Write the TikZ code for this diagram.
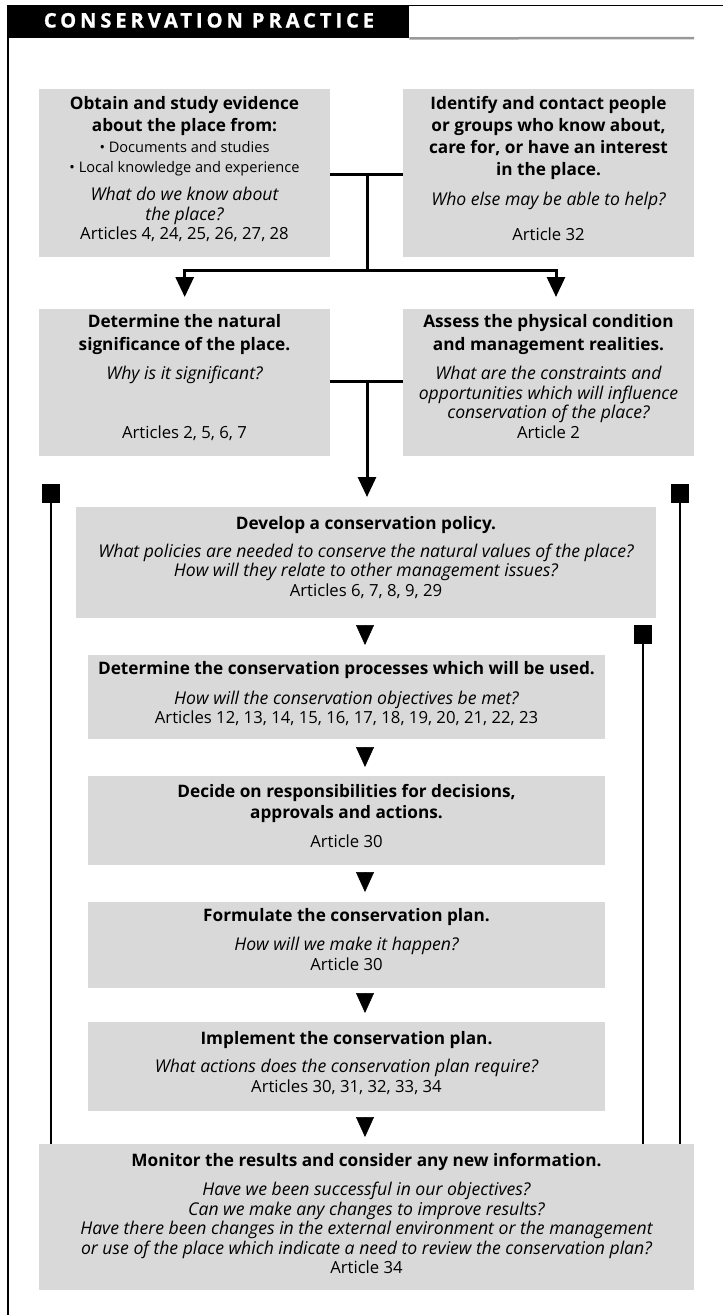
\documentclass[tikz,border=0pt]{standalone}
\usepackage{fontspec}
\setmainfont{Open Sans}
\newfontfamily\hdrfont[LetterSpace=20,BoldFeatures={FakeBold=1.2}]{Open Sans}
\usetikzlibrary{arrows.meta}
\definecolor{boxgray}{gray}{0.85}
\definecolor{rulegray}{gray}{0.6}
\newcommand\tline[5]{\node[#2] (#1) at (#3,#4) {#5};}
\tikzset{
  box/.style={fill=boxgray, inner sep=0pt, anchor=north west},
  tbase/.style={anchor=mid, inner sep=0pt, text=black},
  tb/.style={tbase, font=\fontsize{17.2}{19}\selectfont\bfseries},
  ti/.style={tbase, font=\fontsize{17.6}{19}\selectfont\itshape},
  tr/.style={tbase, font=\fontsize{16.7}{19}\selectfont},
  ts/.style={tbase, font=\fontsize{14.6}{17}\selectfont},
  conn/.style={line width=3pt},
  tri/.style={-{Triangle[length=20pt,width=18pt]}},
  fb/.style={line width=2.5pt, -{Square[length=19pt,width=18pt]}}
}
\begin{document}
\begin{tikzpicture}[x=1pt,y=-1pt]
\useasboundingbox[fill=white] (0,0) rectangle (723,1315);
% header
\node[fill=black, inner sep=0pt, anchor=north west, minimum width=401pt, minimum height=33pt] (hdr) at (8,5) {};
\node[anchor=base, inner sep=0pt, text=white, font=\hdrfont\fontsize{20}{22}\selectfont\bfseries] (hdrtxt) at (209,27.5) {CONSERVATION PRACTICE};
\coordinate (tr) at (723,5);
\coordinate (gr) at (694,38);
\coordinate (bl) at (8,1315);
\draw[line width=1pt] (hdr.north east) -- (tr);
\draw[rulegray, line width=2.5pt] (hdr.south east) -- (gr);
\draw[line width=1.5pt] (hdr.north west) -- (bl);
% boxes
\node[box, minimum width=291pt, minimum height=168pt] (b1) at (39,89) {};
\node[box, minimum width=291pt, minimum height=168pt] (b2) at (403,89) {};
\node[box, minimum width=291pt, minimum height=147pt] (b3) at (39,309) {};
\node[box, minimum width=291pt, minimum height=147pt] (b4) at (403,309) {};
\node[box, minimum width=580pt, minimum height=111pt] (b5) at (76,507) {};
\node[box, minimum width=517pt, minimum height=84pt] (b6) at (88,655) {};
\node[box, minimum width=517pt, minimum height=89pt] (b7) at (88,776) {};
\node[box, minimum width=517pt, minimum height=86pt] (b8) at (88,902) {};
\node[box, minimum width=517pt, minimum height=89pt] (b9) at (88,1022) {};
\node[box, minimum width=655pt, minimum height=146pt] (b10) at (39,1144) {};
% box 1
\tline{t1a}{tb}{184.5}{107}{Obtain and study evidence}
\tline{t1b}{tb}{184.5}{129}{about the place from:}
\tline{t1c}{ts}{184.5}{150}{• Documents and studies}
\tline{t1d}{ts}{184.5}{170}{• Local knowledge and experience}
\tline{t1e}{ti}{184.5}{198}{What do we know about}
\tline{t1f}{ti}{184.5}{218}{the place?}
\tline{t1g}{tr}{184.5}{237}{Articles 4, 24, 25, 26, 27, 28}
% box 2
\tline{t2a}{tb}{548.5}{107}{Identify and contact people}
\tline{t2b}{tb}{548.5}{129}{or groups who know about,}
\tline{t2c}{tb}{548.5}{151}{care for, or have an interest}
\tline{t2d}{tb}{548.5}{173}{in the place.}
\tline{t2e}{ti}{548.5}{203}{Who else may be able to help?}
\tline{t2f}{tr}{548.5}{238}{Article 32}
% box 3
\tline{t3a}{tb}{184.5}{325}{Determine the natural}
\tline{t3b}{tb}{184.5}{348}{significance of the place.}
\tline{t3c}{ti}{184.5}{377}{Why is it significant?}
\tline{t3d}{tr}{184.5}{436}{Articles 2, 5, 6, 7}
% box 4
\tline{t4a}{tb}{548.5}{325}{Assess the physical condition}
\tline{t4b}{tb}{548.5}{348}{and management realities.}
\tline{t4c}{ti}{548.5}{377}{What are the constraints and}
\tline{t4d}{ti}{548.5}{397}{opportunities which will influence}
\tline{t4e}{ti}{548.5}{416}{conservation of the place?}
\tline{t4f}{tr}{548.5}{436}{Article 2}
% box 5
\tline{t5a}{tb}{366}{527}{Develop a conservation policy.}
\tline{t5b}{ti}{366}{555}{What policies are needed to conserve the natural values of the place?}
\tline{t5c}{ti}{366}{574}{How will they relate to other management issues?}
\tline{t5d}{tr}{366}{594}{Articles 6, 7, 8, 9, 29}
% box 6
\tline{t6a}{tb}{346.5}{672}{Determine the conservation processes which will be used.}
\tline{t6b}{ti}{346.5}{702}{How will the conservation objectives be met?}
\tline{t6c}{tr}{346.5}{721}{Articles 12, 13, 14, 15, 16, 17, 18, 19, 20, 21, 22, 23}
% box 7
\tline{t7a}{tb}{346.5}{795}{Decide on responsibilities for decisions,}
\tline{t7b}{tb}{346.5}{816}{approvals and actions.}
\tline{t7c}{tr}{346.5}{845}{Article 30}
% box 8
\tline{t8a}{tb}{346.5}{919}{Formulate the conservation plan.}
\tline{t8b}{ti}{346.5}{948}{How will we make it happen?}
\tline{t8c}{tr}{346.5}{968}{Article 30}
% box 9
\tline{t9a}{tb}{346.5}{1042}{Implement the conservation plan.}
\tline{t9b}{ti}{346.5}{1070}{What actions does the conservation plan require?}
\tline{t9c}{tr}{346.5}{1090}{Articles 30, 31, 32, 33, 34}
% box 10
\tline{t10a}{tb}{366.5}{1164}{Monitor the results and consider any new information.}
\tline{t10b}{ti}{366.5}{1193}{Have we been successful in our objectives?}
\tline{t10c}{ti}{366.5}{1213}{Can we make any changes to improve results?}
\tline{t10d}{ti}{366.5}{1232}{Have there been changes in the external environment or the management}
\tline{t10e}{ti}{366.5}{1252}{or use of the place which indicate a need to review the conservation plan?}
\tline{t10f}{tr}{366.5}{1271}{Article 34}
% connectors top
\coordinate (j1) at (367,174);
\coordinate (j2) at (367,270);
\coordinate (a4) at (556,309);
\draw[conn] (b1.east |- j1) -- (b2.west |- j1);
\draw[conn] (j1) -- (j2);
\draw[conn, tri, shorten >=12pt] (j2) -| (b3.north);
\draw[conn, tri, shorten >=12pt] (j2) -| (a4);
% connectors middle
\coordinate (j3) at (367,381);
\draw[conn] (b3.east |- j3) -- (b4.west |- j3);
\draw[conn, tri, shorten >=10pt] (j3) -- (j3 |- b5.north);
% stacked arrows
\coordinate (ax) at (365,0);
\draw[tri, line width=0.5pt, shorten <=7pt, shorten >=10pt] (b5.south -| ax) -- (b6.north -| ax);
\draw[tri, line width=0.5pt, shorten <=8pt, shorten >=9pt] (b6.south -| ax) -- (b7.north -| ax);
\draw[tri, line width=0.5pt, shorten <=7pt, shorten >=10pt] (b7.south -| ax) -- (b8.north -| ax);
\draw[tri, line width=0.5pt, shorten <=5pt, shorten >=9pt] (b8.south -| ax) -- (b9.north -| ax);
\draw[tri, line width=0.5pt, shorten <=6pt, shorten >=7pt] (b9.south -| ax) -- (b10.north -| ax);
% feedback lines
\coordinate (fL) at (51,484);
\coordinate (fR) at (680,484);
\coordinate (fI) at (643,625);
\draw[fb] (b10.north -| fL) -- (fL);
\draw[fb] (b10.north -| fR) -- (fR);
\draw[fb] (b10.north -| fI) -- (fI);
\end{tikzpicture}
\end{document}
